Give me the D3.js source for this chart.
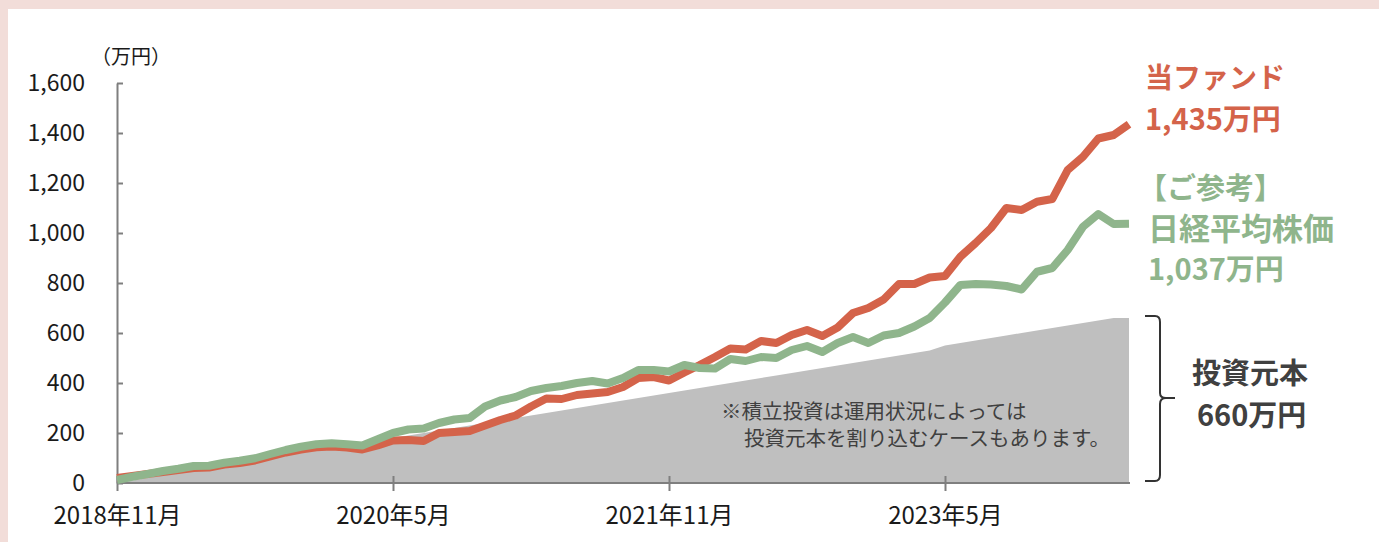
<!DOCTYPE html>
<html>
<head>
<meta charset="utf-8">
<script src="https://cdn.jsdelivr.net/npm/d3@7"></script>
<style>
  body { margin: 0; background: #f2ddd9; }
  text { font-family: "Noto Sans CJK JP", "Noto Sans", sans-serif; }
</style>
</head>
<body>
<div id="chart"></div>
<script>
// data (万円), monthly Nov 2018 - May 2024
var fundValues = [20, 28, 36, 44, 52, 60, 62, 74, 80, 90,
    106, 122, 134, 143, 146, 142, 134, 150, 170, 172,
    168, 200, 204, 208, 230, 252, 270, 306, 338, 336,
    352, 358, 364, 384, 420, 424, 410, 442, 472, 504,
    538, 534, 568, 560, 592, 612, 588, 622, 680, 700,
    734, 796, 796, 822, 828, 905, 960, 1020, 1100, 1092,
    1125, 1136, 1252, 1305, 1378, 1392, 1435];
var nikkeiValues = [12, 25, 36, 48, 57, 68, 69, 81, 89, 99,
    116, 132, 145, 155, 159, 155, 150, 175, 200, 214,
    218, 240, 254, 260, 306, 330, 344, 368, 380, 388,
    400, 408, 398, 420, 452, 452, 446, 472, 460, 458,
    496, 488, 504, 500, 532, 548, 524, 560, 584, 560,
    590, 600, 626, 660, 722, 792, 796, 794, 788, 774,
    845, 860, 932, 1025, 1076, 1036, 1037];
var principalValues = [0, 10, 20, 30, 40, 50, 60, 70, 80, 90,
    100, 110, 120, 130, 140, 150, 160, 170, 180, 190,
    200, 210, 220, 230, 240, 250, 260, 270, 280, 290,
    300, 310, 320, 330, 340, 350, 360, 370, 380, 390,
    400, 410, 420, 430, 440, 450, 460, 470, 480, 490,
    500, 510, 520, 530, 550, 560, 570, 580, 590, 600,
    610, 620, 630, 640, 650, 660, 660];
var xTickLabels = ["2018年11月", "2020年5月", "2021年11月", "2023年5月"];
var yTicks = [0, 200, 400, 600, 800, 1000, 1200, 1400, 1600];

var width = 1379;
var height = 542;

var svg = d3.select("#chart")
    .append("svg")
    .attr("width", width)
    .attr("height", height)
    .style("display", "block");

// pink frame, white panel
svg.append("rect").attr("width", width).attr("height", height).attr("fill", "#f2ddd9");
svg.append("rect").attr("x", 8).attr("y", 9).attr("width", width - 8).attr("height", height - 9).attr("fill", "#fff");

// month categories
var fmtMonth = d3.timeFormat("%Y年%-m月");
var months = d3.timeMonth.range(new Date(2018, 10, 1), new Date(2024, 5, 1)).map(fmtMonth);

var x = d3.scalePoint()
    .domain(months)
    .range([117, 1129]);

var y = d3.scaleLinear()
    .domain([0, 1600])
    .range([483, 83]);

function rows(vals) {
    return vals.map(function(v, i) { return { m: months[i], v: v }; });
}

// principal area
var area = d3.area()
    .x(function(d) { return x(d.m); })
    .y0(y(0))
    .y1(function(d) { return y(d.v); });

svg.append("path")
    .datum(rows(principalValues))
    .attr("fill", "#bfbfbf")
    .attr("d", area);

// note inside area
var note = svg.append("text")
    .attr("fill", "#404040")
    .style("font-size", "20.5px");
note.append("tspan").attr("x", 721).attr("y", 419).text("※積立投資は運用状況によっては");
note.append("tspan").attr("x", 744).attr("y", 446).text("投資元本を割り込むケースもあります。");

// axes
var yAxis = d3.axisLeft(y)
    .tickValues(yTicks)
    .tickFormat(d3.format(","))
    .tickSize(-6)
    .tickSizeOuter(0)
    .tickPadding(32);

var gy = svg.append("g")
    .attr("transform", "translate(117,0)")
    .call(yAxis);

var xAxis = d3.axisBottom(x)
    .tickValues(xTickLabels)
    .tickSize(8)
    .tickSizeOuter(0)
    .tickPadding(16);

var gx = svg.append("g")
    .attr("transform", "translate(0,483)")
    .call(xAxis);
gx.select(".domain").attr("d", "M117,0H1130");
gx.selectAll(".tick line").attr("y1", -7);

[gx, gy].forEach(function(g) {
    g.select(".domain").attr("stroke", "#7f7f7f").attr("stroke-width", 2);
    g.selectAll(".tick line").attr("stroke", "#7f7f7f").attr("stroke-width", 2);
    g.selectAll(".tick text").attr("fill", "#1a1a1a").style("font-size", "23px")
        .style("font-family", "'Noto Sans CJK JP', sans-serif");
});
gx.selectAll(".tick text").style("font-size", "24px");

svg.append("text")
    .attr("x", 131)
    .attr("y", 64)
    .attr("text-anchor", "middle")
    .attr("fill", "#1a1a1a")
    .style("font-size", "20px")
    .text("（万円）");

// lines
var line = d3.line()
    .x(function(d) { return x(d.m); })
    .y(function(d) { return y(d.v); });

svg.append("path")
    .datum(rows(fundValues))
    .attr("fill", "none")
    .attr("stroke", "#d4634a")
    .attr("stroke-width", 8)
    .attr("stroke-linejoin", "round")
    .attr("d", line);

svg.append("path")
    .datum(rows(nikkeiValues))
    .attr("fill", "none")
    .attr("stroke", "#8fb58c")
    .attr("stroke-width", 8)
    .attr("stroke-linejoin", "round")
    .attr("d", line);

// right hand labels
function label(txt, xx, yy, color, size) {
    svg.append("text")
        .attr("x", xx)
        .attr("y", yy)
        .attr("fill", color)
        .style("font-size", size + "px")
        .style("font-weight", "bold")
        .text(txt);
}
label("当ファンド", 1145, 88, "#d4634a", 28);
label("1,435万円", 1145, 130, "#d4634a", 29);
label("【ご参考】", 1138, 199, "#8fb58c", 29);
label("日経平均株価", 1148, 240, "#8fb58c", 31);
label("1,037万円", 1148, 280, "#8fb58c", 29);
label("投資元本", 1192, 384, "#404040", 29);
label("660万円", 1197, 426, "#404040", 29);

// brace for principal
svg.append("path")
    .attr("fill", "none")
    .attr("stroke", "#333")
    .attr("stroke-width", 2)
    .attr("d", "M1145,316H1155Q1160,316 1160,322V393Q1160,398 1166,398H1175" +
        "M1166,398Q1160,398 1160,404V475Q1160,481 1155,481H1145");
</script>
</body>
</html>
